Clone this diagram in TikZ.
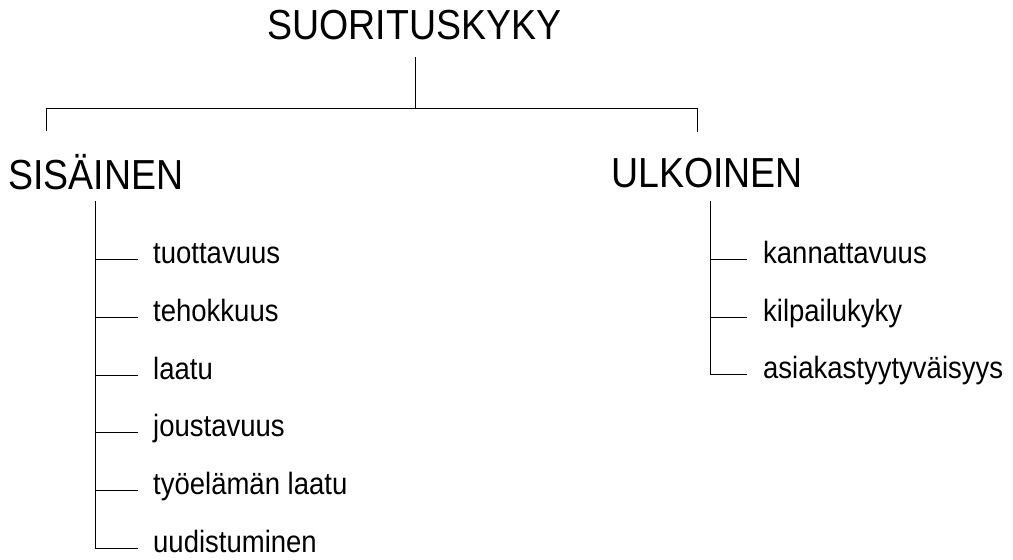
\documentclass[tikz,border=0pt]{standalone}
\usepackage{graphicx}
\usepackage{fontspec}
\setmainfont{Liberation Sans}
\newcommand\tallhead[1]{\scalebox{1}[1.12]{#1}}
\begin{document}
\begin{tikzpicture}[x=1pt,y=-1pt,
  head/.style={font=\fontsize{37.5}{40}\selectfont, inner sep=0pt, anchor=base},
  item/.style={font=\fontsize{27.5}{30}\selectfont, inner sep=0pt, anchor=base west},
  link/.style={draw=black, line width=0.9pt}]
\useasboundingbox (0,0) rectangle (1013,560);
% headings
\node[head] (top) at (414.5,39) {\tallhead{SUORITUSKYKY}};
\node[head] (sis) at (96,189) {\tallhead{SISÄINEN}};
\node[head] (ulk) at (707,187) {\tallhead{ULKOINEN}};
% top connectors
\coordinate (t0) at (415,57);
\coordinate (bar) at (415,108);
\coordinate (bl) at (46,108);
\coordinate (br) at (697,108);
\coordinate (lb) at (46,131);
\coordinate (rb) at (697,132);
\draw[link] (t0) -- (bar);
\draw[link] (lb) -- (bl) -- (br) -- (rb);
% left branch
\coordinate (sv) at (95,201);
\foreach \i/\y/\t in {1/259/tuottavuus,2/317/tehokkuus,3/375/laatu,4/432/joustavuus,5/490/työelämän laatu,6/548/uudistuminen}{
  \coordinate (s\i) at (138,\y);
  \node[item] (l\i) at (153,\y+4) {\tallhead{\t}};
}
\draw[link] (sv) |- (s6);
\foreach \i in {1,...,5}{\draw[link] (s\i -| sv) -- (s\i);}
% right branch
\coordinate (uv) at (710,201);
\foreach \i/\y/\t in {1/259/kannattavuus,2/317/kilpailukyky,3/374/asiakastyytyväisyys}{
  \coordinate (u\i) at (747,\y);
  \node[item] (r\i) at (763,\y+4) {\tallhead{\t}};
}
\draw[link] (uv) |- (u3);
\foreach \i in {1,2}{\draw[link] (u\i -| uv) -- (u\i);}
\end{tikzpicture}
\end{document}
